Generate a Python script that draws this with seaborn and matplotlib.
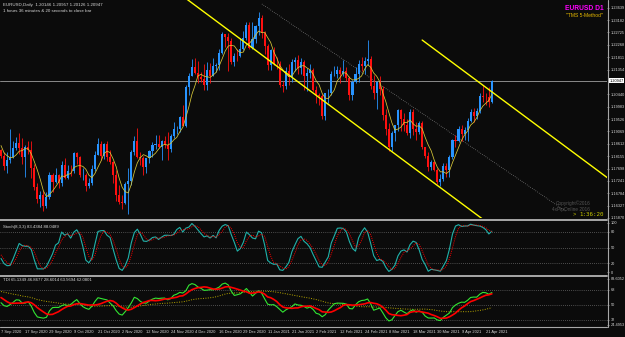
import numpy as np
import pandas as pd
import matplotlib
matplotlib.use("Agg")
import matplotlib.pyplot as plt
from matplotlib.lines import Line2D
from matplotlib.transforms import blended_transform_factory as btf
import seaborn as sns

# ---------------- data (EURUSD daily) ----------------
# warm-up history (Jul 1 - Sep 4 2020) used only for indicator start values
pre_close = [1.1250, 1.1238, 1.1245, 1.1308, 1.1275, 1.1330, 1.1287, 1.1300, 1.1343, 1.1409,
             1.1411, 1.1383, 1.1428, 1.1443, 1.1529, 1.1567, 1.1596, 1.1655, 1.1753, 1.1717,
             1.1791, 1.1846, 1.1778,
             1.1762, 1.1799, 1.1863, 1.1876, 1.1785, 1.1735, 1.1740, 1.1787, 1.1813, 1.1842,
             1.1870, 1.1930, 1.1837, 1.1841, 1.1795, 1.1792, 1.1831, 1.1831, 1.1822, 1.1903,
             1.1936, 1.1914, 1.1854, 1.1850, 1.1838]
pre_high = [1.1803, 1.1807, 1.1916, 1.1916, 1.1883, 1.1807, 1.1806, 1.1802, 1.1841, 1.1850,
            1.1883, 1.1966, 1.1951, 1.1883, 1.1884, 1.1842, 1.1840, 1.1852, 1.1900, 1.1922,
            1.1966, 1.2011, 1.1937, 1.1869, 1.1883]
pre_low = [1.1696, 1.1721, 1.1780, 1.1828, 1.1755, 1.1711, 1.1714, 1.1711, 1.1771, 1.1789,
           1.1818, 1.1864, 1.1823, 1.1753, 1.1753, 1.1772, 1.1784, 1.1770, 1.1762, 1.1812,
           1.1891, 1.1900, 1.1788, 1.1789, 1.1781]

# visible bars: 7 Sep 2020 - 23 Apr 2021
open_ = [1.1838, 1.1817, 1.1779, 1.1801, 1.1813, 1.1845, 1.1863, 1.1846, 1.1813, 1.1850,
         1.1838, 1.1771, 1.1703, 1.1658, 1.1671, 1.1631, 1.1665, 1.1745, 1.1721, 1.1747,
         1.1716, 1.1783, 1.1734, 1.1761, 1.1759, 1.1826, 1.1814, 1.1744, 1.1746, 1.1705,
         1.1718, 1.1768, 1.1820, 1.1862, 1.1816, 1.1860, 1.1811, 1.1794, 1.1746, 1.1673,
         1.1646, 1.1642, 1.1714, 1.1722, 1.1832, 1.1873, 1.1814, 1.1810, 1.1776, 1.1808,
         1.1834, 1.1855, 1.1860, 1.1850, 1.1871, 1.1858, 1.1842, 1.1890, 1.1916, 1.1917,
         1.1960, 1.1927, 1.2072, 1.2112, 1.2146, 1.2121, 1.2108, 1.2101, 1.2079, 1.2132,
         1.2113, 1.2148, 1.2153, 1.2197, 1.2265, 1.2256, 1.2240, 1.2164, 1.2187, 1.2185,
         1.2212, 1.2251, 1.2298, 1.2216, 1.2249, 1.2297, 1.2327, 1.2271, 1.2221, 1.2151,
         1.2207, 1.2157, 1.2155, 1.2080, 1.2076, 1.2129, 1.2106, 1.2164, 1.2170, 1.2140,
         1.2163, 1.2111, 1.2122, 1.2135, 1.2061, 1.2040, 1.2036, 1.1964, 1.2048, 1.2049,
         1.2119, 1.2119, 1.2133, 1.2119, 1.2130, 1.2105, 1.2040, 1.2091, 1.2120, 1.2156,
         1.2150, 1.2165, 1.2175, 1.2074, 1.2048, 1.2090, 1.2064, 1.1967, 1.1915, 1.1848,
         1.1900, 1.1929, 1.1985, 1.1952, 1.1930, 1.1902, 1.1977, 1.1914, 1.1906, 1.1939,
         1.1848, 1.1815, 1.1777, 1.1795, 1.1765, 1.1720, 1.1730, 1.1778, 1.1763, 1.1812,
         1.1874, 1.1870, 1.1915, 1.1899, 1.1911, 1.1947, 1.1979, 1.1964, 1.1983, 1.2039,
         1.2035, 1.2034, 1.20146]
high = [1.1840, 1.1832, 1.1829, 1.1917, 1.1871, 1.1887, 1.1900, 1.1883, 1.1856, 1.1872,
        1.1870, 1.1785, 1.1718, 1.1688, 1.1686, 1.1683, 1.1756, 1.1754, 1.1772, 1.1749,
        1.1797, 1.1809, 1.1783, 1.1781, 1.1831, 1.1829, 1.1815, 1.1772, 1.1752, 1.1734,
        1.1781, 1.1833, 1.1881, 1.1871, 1.1865, 1.1870, 1.1838, 1.1797, 1.1763, 1.1708,
        1.1671, 1.1720, 1.1770, 1.1838, 1.1891, 1.1920, 1.1831, 1.1815, 1.1810, 1.1838,
        1.1868, 1.1893, 1.1892, 1.1874, 1.1890, 1.1905, 1.1899, 1.1941, 1.1925, 1.1965,
        1.2004, 1.2077, 1.2122, 1.2176, 1.2177, 1.2167, 1.2128, 1.2155, 1.2162, 1.2161,
        1.2178, 1.2161, 1.2211, 1.2273, 1.2268, 1.2272, 1.2250, 1.2198, 1.2210, 1.2250,
        1.2276, 1.2310, 1.2310, 1.2310, 1.2300, 1.2349, 1.2338, 1.2278, 1.2230, 1.2210,
        1.2220, 1.2183, 1.2166, 1.2092, 1.2145, 1.2156, 1.2175, 1.2182, 1.2190, 1.2177,
        1.2169, 1.2140, 1.2154, 1.2140, 1.2075, 1.2050, 1.2044, 1.2050, 1.2064, 1.2130,
        1.2150, 1.2150, 1.2145, 1.2169, 1.2144, 1.2110, 1.2096, 1.2144, 1.2170, 1.2180,
        1.2180, 1.2243, 1.2185, 1.2114, 1.2093, 1.2113, 1.2074, 1.1990, 1.1937, 1.1910,
        1.1929, 1.1990, 1.1989, 1.1976, 1.1952, 1.1989, 1.1990, 1.1943, 1.1944, 1.1945,
        1.1850, 1.1830, 1.1803, 1.1799, 1.1771, 1.1749, 1.1791, 1.1789, 1.1820, 1.1880,
        1.1893, 1.1927, 1.1930, 1.1922, 1.1958, 1.1990, 1.1993, 1.1994, 1.2048, 1.2079,
        1.2048, 1.2070, 1.20957]
low = [1.1810, 1.1764, 1.1753, 1.1790, 1.1808, 1.1837, 1.1823, 1.1788, 1.1737, 1.1823,
       1.1736, 1.1689, 1.1644, 1.1627, 1.1612, 1.1624, 1.1656, 1.1684, 1.1716, 1.1696,
       1.1706, 1.1731, 1.1732, 1.1741, 1.1755, 1.1785, 1.1737, 1.1727, 1.1688, 1.1696,
       1.1708, 1.1761, 1.1819, 1.1801, 1.1805, 1.1796, 1.1787, 1.1718, 1.1650, 1.1640,
       1.1622, 1.1640, 1.1603, 1.1710, 1.1819, 1.1810, 1.1784, 1.1745, 1.1755, 1.1791,
       1.1814, 1.1840, 1.1846, 1.1800, 1.1844, 1.1801, 1.1830, 1.1882, 1.1896, 1.1904,
       1.1925, 1.1923, 1.2040, 1.2110, 1.2117, 1.2087, 1.2088, 1.2060, 1.2059, 1.2085,
       1.2110, 1.2126, 1.2134, 1.2194, 1.2220, 1.2130, 1.2154, 1.2150, 1.2168, 1.2180,
       1.2207, 1.2243, 1.2212, 1.2210, 1.2234, 1.2263, 1.2250, 1.2192, 1.2132, 1.2132,
       1.2153, 1.2136, 1.2072, 1.2054, 1.2064, 1.2080, 1.2089, 1.2130, 1.2117, 1.2117,
       1.2059, 1.2057, 1.2105, 1.2057, 1.2010, 1.2003, 1.1952, 1.1950, 1.2011, 1.2043,
       1.2110, 1.2105, 1.2085, 1.2110, 1.2092, 1.2023, 1.2023, 1.2086, 1.2091, 1.2131,
       1.2120, 1.2153, 1.2062, 1.2025, 1.1990, 1.2043, 1.1950, 1.1893, 1.1836, 1.1835,
       1.1872, 1.1908, 1.1910, 1.1908, 1.1895, 1.1883, 1.1895, 1.1874, 1.1897, 1.1842,
       1.1808, 1.1761, 1.1764, 1.1762, 1.1712, 1.1704, 1.1722, 1.1740, 1.1740, 1.1805,
       1.1850, 1.1866, 1.1870, 1.1874, 1.1870, 1.1940, 1.1943, 1.1953, 1.1975, 1.2015,
       1.2003, 1.1996, 1.20126]
close = [1.1817, 1.1779, 1.1801, 1.1813, 1.1845, 1.1863, 1.1846, 1.1813, 1.1850, 1.1838,
         1.1771, 1.1703, 1.1658, 1.1671, 1.1631, 1.1665, 1.1745, 1.1721, 1.1747, 1.1716,
         1.1783, 1.1734, 1.1761, 1.1759, 1.1826, 1.1814, 1.1744, 1.1746, 1.1705, 1.1718,
         1.1768, 1.1820, 1.1862, 1.1816, 1.1860, 1.1811, 1.1794, 1.1746, 1.1673, 1.1646,
         1.1642, 1.1714, 1.1722, 1.1832, 1.1873, 1.1814, 1.1810, 1.1776, 1.1808, 1.1834,
         1.1855, 1.1860, 1.1850, 1.1871, 1.1858, 1.1842, 1.1890, 1.1916, 1.1917, 1.1960,
         1.1927, 1.2072, 1.2112, 1.2146, 1.2121, 1.2108, 1.2101, 1.2079, 1.2132, 1.2113,
         1.2148, 1.2153, 1.2197, 1.2265, 1.2256, 1.2240, 1.2164, 1.2187, 1.2185, 1.2212,
         1.2251, 1.2298, 1.2216, 1.2249, 1.2297, 1.2327, 1.2271, 1.2221, 1.2151, 1.2207,
         1.2157, 1.2155, 1.2080, 1.2076, 1.2129, 1.2106, 1.2164, 1.2170, 1.2140, 1.2163,
         1.2111, 1.2122, 1.2135, 1.2061, 1.2040, 1.2036, 1.1964, 1.2048, 1.2049, 1.2119,
         1.2119, 1.2133, 1.2119, 1.2130, 1.2105, 1.2040, 1.2091, 1.2120, 1.2156, 1.2150,
         1.2165, 1.2175, 1.2074, 1.2048, 1.2090, 1.2064, 1.1967, 1.1915, 1.1848, 1.1900,
         1.1929, 1.1985, 1.1952, 1.1930, 1.1902, 1.1977, 1.1914, 1.1906, 1.1939, 1.1848,
         1.1815, 1.1777, 1.1795, 1.1765, 1.1720, 1.1730, 1.1778, 1.1763, 1.1812, 1.1874,
         1.1870, 1.1915, 1.1899, 1.1911, 1.1947, 1.1979, 1.1964, 1.1983, 1.2039, 1.2035,
         1.2034, 1.20146, 1.20947]

date_labels = ["7 Sep 2020", "17 Sep 2020", "29 Sep 2020", "9 Oct 2020", "21 Oct 2020",
               "2 Nov 2020", "12 Nov 2020", "24 Nov 2020", "4 Dec 2020", "16 Dec 2020",
               "29 Dec 2020", "11 Jan 2021", "21 Jan 2021", "2 Feb 2021", "12 Feb 2021",
               "24 Feb 2021", "8 Mar 2021", "18 Mar 2021", "30 Mar 2021", "9 Apr 2021",
               "21 Apr 2021"]
date_label_bar = [0, 8, 16, 24, 32, 40, 48, 56, 64, 72, 80, 88, 96, 104, 112, 120,
                  128, 136, 144, 152, 160]
price_ticks = [1.15870, 1.16327, 1.16784, 1.17241, 1.17698, 1.18155, 1.18612, 1.19069,
               1.19526, 1.19983, 1.20440, 1.21354, 1.21811, 1.22268, 1.22725, 1.23182,
               1.23639]
stoch_ticks = [0, 20, 50, 80, 100]
tdi_ticks = [32, 50, 68]
tdi_range = [24.4953, 83.6052]

# drawn objects (bar index, price)
chan_lower = ([58, 165], [1.24229, 1.15327])
chan_upper = ([139, 202], [1.22442, 1.17201])
trend_dotted = ([86.1, 186.5], [1.23774, 1.16110])

title_line1 = "EURUSD,Daily  1.20146 1.20957 1.20126 1.20947"
title_line2 = "1 hours 36 minutes & 20 seconds to close bar"
stoch_label = "Stoch(8,3,3) 83.4384 88.0489"
tdi_label = "TDI 65.1349 46.8677 28.6014 63.5694 62.0801"

# ---------------- indicators ----------------
n_pre = len(pre_close)
all_close = pd.Series(pre_close + close)
all_high = pd.Series([np.nan] * (n_pre - len(pre_high)) + pre_high + high)
all_low = pd.Series([np.nan] * (n_pre - len(pre_low)) + pre_low + low)

ma = all_close.rolling(5).mean().iloc[n_pre:].to_numpy()

kp = 8
hh = all_high.rolling(kp).max()
ll = all_low.rolling(kp).min()
num = (all_close - ll).rolling(3).sum()
den = (hh - ll).rolling(3).sum()
stoch_main = 100 * num / den
stoch_sig = stoch_main.rolling(3).mean()
stoch_main = stoch_main.iloc[n_pre:].to_numpy()
stoch_sig = stoch_sig.iloc[n_pre:].to_numpy()

delta = all_close.diff()
gain = delta.clip(lower=0)
loss = -delta.clip(upper=0)
avg_g = gain.ewm(alpha=1 / 13, adjust=False).mean()
avg_l = loss.ewm(alpha=1 / 13, adjust=False).mean()
rsi = 100 - 100 / (1 + avg_g / avg_l)
tdi_green = rsi.rolling(2).mean().iloc[n_pre:].to_numpy()
tdi_red = rsi.rolling(7).mean().iloc[n_pre:].to_numpy()
tdi_yellow = rsi.rolling(34).mean().iloc[n_pre:].to_numpy()

n = len(close)
bars = np.arange(n)
df = pd.DataFrame({"bar": bars, "ma": ma, "k": stoch_main, "d": stoch_sig,
                   "g": tdi_green, "r": tdi_red, "y": tdi_yellow})

# ---------------- figure ----------------
sns.set_theme(style="dark")
plt.rcParams["font.family"] = ["Liberation Sans", "DejaVu Sans"]
BG = "#0b0b0b"
FG = "#d8d8d8"
SEP = "#a8a8a8"
W, H = 625, 337
TS = 2.8  # tick-label size


def rect(x0, y0, x1, y1):
    return [x0 / W, 1 - y1 / H, (x1 - x0) / W, (y1 - y0) / H]


fig = plt.figure(figsize=(W / 100, H / 100), dpi=100, facecolor=BG)
ax = fig.add_axes(rect(0, 0, 607, 218))
ax_st = fig.add_axes(rect(0, 221, 607, 274))
ax_td = fig.add_axes(rect(0, 277, 607, 326))

x_lo, x_hi = -0.33, 200.0
for a in (ax, ax_st, ax_td):
    a.set_facecolor(BG)
    a.grid(False)
    for s in a.spines.values():
        s.set_visible(False)
    a.set_xlim(x_lo, x_hi)
    a.yaxis.tick_right()
    a.tick_params(axis="y", colors=FG, labelsize=TS, length=1.5, width=0.5, pad=1.2,
                  color=SEP)
    a.tick_params(axis="x", length=0)
    a.set_xticks([])

# ---- main price panel ----
ax.set_ylim(1.15894, 1.23921)
o = np.array(open_)
c = np.array(close)
hi = np.array(high)
lo = np.array(low)
cols = np.where(c >= o, "#2894ff", "#ff1010")
ax.vlines(bars, lo, hi, colors=cols, linewidth=0.6, zorder=3)
body_b = np.minimum(o, c)
body_h = np.maximum(np.abs(c - o), 0.00006)
ax.bar(bars, body_h, bottom=body_b, width=0.68, color=cols, linewidth=0, zorder=4)

sns.lineplot(data=df, x="bar", y="ma", ax=ax, color="#d8c838", linewidth=0.55, zorder=5)

ax.plot(chan_lower[0], chan_lower[1], color="#ffff00", linewidth=1.0, zorder=6)
ax.plot(chan_upper[0], chan_upper[1], color="#ffff00", linewidth=1.0, zorder=6)
ax.plot(trend_dotted[0], trend_dotted[1], color="#9a9a9a", linewidth=0.5,
        linestyle=(0, (1, 2)), zorder=2)

ax.axhline(close[-1], color="#8a8a8a", linewidth=0.7, zorder=2)
ax.set_yticks(price_ticks)
ax.set_yticklabels([f"{v:.5f}" for v in price_ticks])
tr = btf(ax.transAxes, ax.transData)
ax.text(1.004, close[-1], f"{close[-1]:.5f}", transform=tr, fontsize=TS, color="#000000",
        va="center", ha="left",
        bbox=dict(boxstyle="square,pad=0.12", fc="#ffffff", ec="none"), zorder=10,
        clip_on=False)

ax.text(0.005, 0.985, title_line1, transform=ax.transAxes, fontsize=3.2, color=FG,
        va="top", ha="left")
ax.text(0.005, 0.958, title_line2, transform=ax.transAxes, fontsize=3.2, color=FG,
        va="top", ha="left")
ax.text(0.994, 0.962, "EURUSD D1", transform=ax.transAxes, fontsize=4.8, color="#ff00ff",
        fontweight="bold", va="center", ha="right")
ax.text(0.994, 0.928, "\"TMS 5-Method\"", transform=ax.transAxes, fontsize=3.6,
        color="#e6b800", va="center", ha="right")
ax.text(0.972, 0.066, "Copyright\u00a92016", transform=ax.transAxes, fontsize=3.4,
        color="#555555", va="center", ha="right")
ax.text(0.972, 0.040, "4xPipOnline 2016", transform=ax.transAxes, fontsize=3.4,
        color="#555555", va="center", ha="right")
ax.text(0.944, 0.018, ">", transform=ax.transAxes, fontsize=4, color="#c8c800",
        va="center", ha="left")
ax.text(0.994, 0.018, "1:36:20", transform=ax.transAxes, fontsize=4.2, color="#c8c800",
        va="center", ha="right", family="DejaVu Sans Mono")

# ---- stochastic panel ----
ax_st.set_ylim(0, 100)
for lv in (20, 50, 80):
    ax_st.axhline(lv, color="#8c8c8c", linewidth=0.5, linestyle=(0, (1, 2)))
sns.lineplot(data=df, x="bar", y="k", ax=ax_st, color="#20b2aa", linewidth=0.8)
sns.lineplot(data=df, x="bar", y="d", ax=ax_st, color="#ff0000", linewidth=0.7,
             linestyle=(0, (1, 1.2)))
ax_st.set_yticks([3, 20, 50, 80, 97])
ax_st.set_yticklabels(["0", "20", "50", "80", "100"])
ax_st.text(0.005, 0.93, stoch_label, transform=ax_st.transAxes, fontsize=3.1, color=FG,
           va="top", ha="left")

# ---- TDI panel ----
ax_td.set_ylim(tdi_range[0], tdi_range[1])
for lv in tdi_ticks:
    ax_td.axhline(lv, color="#8c8c8c", linewidth=0.5, linestyle=(0, (1, 2)))
sns.lineplot(data=df, x="bar", y="y", ax=ax_td, color="#b8a800", linewidth=0.7,
             linestyle=(0, (1, 1.5)))
sns.lineplot(data=df, x="bar", y="g", ax=ax_td, color="#32e632", linewidth=0.8)
sns.lineplot(data=df, x="bar", y="r", ax=ax_td, color="#ff0000", linewidth=1.2)
ax_td.set_yticks([tdi_range[0] + 1.5] + tdi_ticks + [tdi_range[1] - 2])
ax_td.set_yticklabels([f"{tdi_range[0]:.4f}"] + [str(v) for v in tdi_ticks]
                      + [f"{tdi_range[1]:.4f}"])
ax_td.text(0.005, 0.97, tdi_label, transform=ax_td.transAxes, fontsize=3.1, color=FG,
           va="top", ha="left")
ax_td.set_xticks(date_label_bar)
ax_td.set_xticklabels(date_labels, ha="left")
ax_td.tick_params(axis="x", colors=FG, labelsize=2.9, length=1.5, width=0.5, pad=1.5,
                  color=SEP)
for a in (ax, ax_st, ax_td):
    a.set_xlabel("")
    a.set_ylabel("")
    a.set_xlim(x_lo, x_hi)


# ---- panel separators / frame ----
def fig_hline(y, lw, x1=607):
    fig.add_artist(Line2D([0, x1 / W], [1 - y / H, 1 - y / H], color=SEP, linewidth=lw))


fig_hline(219.5, 1.4)
fig_hline(275.5, 1.4)
fig_hline(326.5, 0.8)
fig.add_artist(Line2D([607.5 / W, 607.5 / W], [1 - 326.5 / H, 1], color=SEP, linewidth=0.8))

fig.savefig("out.png", dpi=100, facecolor=BG)
